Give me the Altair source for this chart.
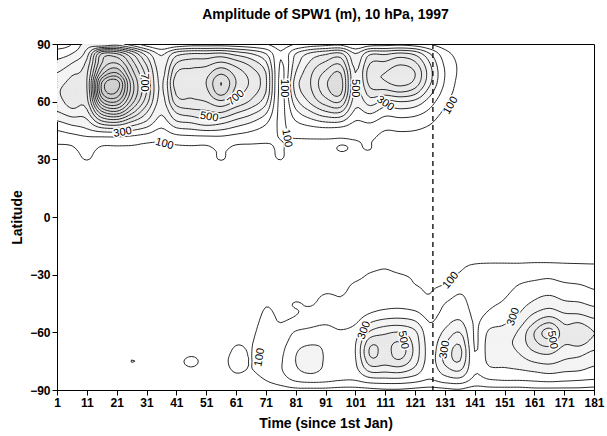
import altair as alt
import numpy as np
import pandas as pd
from collections import defaultdict

# ---------------- data (amplitude in metres) ----------------
DAYS = list(range(1, 182, 5))
NH_LATS = [90, 85, 80, 75, 70, 65, 60, 55, 50, 45, 40, 35, 30, 25]
SH_LATS = [-25, -30, -35, -40, -45, -50, -55, -60, -65, -70, -75, -80, -85, -90]

NH_AMP = {
    1:   [150, 250, 330, 400, 450, 480, 450, 400, 300, 200, 120, 80, 40, 10],
    6:   [200, 300, 400, 480, 540, 600, 560, 470, 350, 240, 130, 85, 45, 15],
    11:  [350, 450, 530, 580, 600, 590, 560, 480, 380, 280, 160, 130, 105, 30],
    16:  [300, 900, 1000, 1150, 1400, 1400, 1200, 900, 600, 330, 150, 80, 40, 15],
    21:  [350, 900, 1100, 1300, 1550, 1500, 1300, 1000, 650, 340, 150, 80, 40, 15],
    26:  [250, 700, 850, 950, 1050, 1050, 950, 760, 520, 300, 140, 80, 40, 15],
    31:  [150, 450, 580, 660, 700, 700, 640, 520, 400, 250, 120, 75, 35, 10],
    36:  [100, 280, 330, 360, 380, 380, 360, 320, 260, 180, 110, 70, 30, 10],
    41:  [120, 450, 600, 700, 760, 720, 650, 520, 400, 260, 130, 80, 40, 10],
    46:  [150, 500, 650, 730, 750, 720, 680, 570, 430, 280, 140, 80, 40, 10],
    51:  [150, 500, 660, 760, 800, 770, 700, 590, 480, 300, 140, 80, 50, 15],
    56:  [150, 520, 720, 880, 1000, 950, 780, 620, 450, 290, 150, 110, 105, 40],
    61:  [140, 460, 650, 760, 800, 760, 680, 530, 380, 250, 130, 80, 50, 15],
    66:  [120, 400, 560, 650, 680, 650, 580, 450, 320, 210, 120, 80, 40, 10],
    71:  [100, 300, 420, 500, 520, 500, 430, 330, 230, 160, 110, 85, 60, 20],
    76:  [60, 110, 90, 75, 70, 70, 70, 75, 80, 90, 100, 105, 102, 40],
    81:  [100, 300, 350, 400, 450, 430, 360, 280, 200, 130, 95, 70, 40, 10],
    86:  [140, 420, 520, 580, 600, 580, 520, 400, 270, 150, 95, 70, 40, 10],
    91:  [160, 480, 620, 720, 780, 750, 650, 500, 320, 160, 95, 70, 50, 15],
    96:  [170, 520, 680, 800, 850, 830, 700, 520, 320, 150, 95, 105, 60, 15],
    101: [100, 300, 360, 400, 400, 380, 340, 280, 200, 130, 100, 90, 70, 20],
    106: [150, 480, 600, 660, 640, 560, 450, 330, 220, 140, 105, 100, 60, 15],
    111: [160, 480, 620, 700, 690, 560, 370, 250, 160, 100, 70, 50, 30, 10],
    116: [170, 520, 680, 760, 740, 600, 400, 270, 170, 105, 70, 50, 30, 10],
    121: [150, 470, 620, 700, 670, 540, 370, 250, 160, 100, 65, 40, 20, 5],
    126: [100, 300, 400, 440, 420, 340, 250, 180, 120, 75, 45, 25, 10, 0],
    131: [50, 140, 180, 200, 190, 160, 120, 85, 50, 30, 15, 5, 0, 0],
    136: [20, 60, 80, 80, 70, 60, 45, 30, 20, 10, 5, 0, 0, 0],
}

SH_AMP = {
    26:  [0, 0, 0, 0, 0, 0, 0, 10, 30, 60, 102, 60, 30, 0],
    31:  [0, 0, 0, 0, 0, 0, 0, 0, 20, 40, 50, 40, 20, 0],
    36:  [0, 0, 0, 0, 0, 0, 0, 0, 20, 40, 50, 40, 20, 0],
    41:  [0, 0, 0, 0, 0, 0, 0, 10, 30, 50, 70, 60, 30, 0],
    46:  [0, 0, 0, 0, 0, 0, 0, 20, 40, 70, 120, 80, 40, 10],
    51:  [0, 0, 0, 0, 0, 0, 0, 20, 40, 60, 70, 60, 30, 10],
    56:  [0, 0, 0, 0, 0, 0, 10, 30, 50, 60, 70, 60, 30, 10],
    61:  [0, 0, 0, 0, 0, 10, 30, 60, 90, 115, 130, 110, 60, 20],
    66:  [0, 0, 0, 10, 30, 50, 70, 85, 95, 98, 98, 95, 60, 30],
    71:  [0, 0, 10, 40, 90, 110, 120, 130, 140, 150, 150, 140, 100, 40],
    76:  [0, 0, 20, 50, 70, 85, 100, 130, 160, 180, 190, 190, 150, 60],
    81:  [0, 0, 30, 60, 105, 95, 130, 210, 250, 290, 300, 280, 210, 80],
    86:  [0, 0, 40, 70, 90, 130, 170, 230, 280, 340, 350, 320, 230, 80],
    91:  [0, 20, 60, 100, 130, 150, 190, 240, 280, 290, 290, 280, 220, 80],
    96:  [0, 30, 70, 95, 110, 130, 170, 210, 240, 260, 260, 250, 200, 70],
    101: [0, 60, 110, 120, 130, 150, 190, 250, 290, 300, 290, 270, 200, 70],
    106: [50, 110, 130, 140, 160, 200, 300, 420, 560, 620, 560, 420, 250, 80],
    111: [80, 120, 140, 150, 170, 230, 350, 480, 560, 560, 540, 420, 260, 90],
    116: [40, 105, 130, 140, 170, 240, 360, 500, 600, 650, 580, 430, 260, 90],
    121: [0, 80, 100, 120, 150, 220, 320, 420, 460, 470, 440, 360, 230, 80],
    126: [0, 60, 90, 100, 120, 160, 200, 230, 250, 260, 260, 240, 190, 70],
    131: [0, 70, 100, 150, 200, 230, 270, 320, 380, 420, 420, 350, 240, 80],
    136: [70, 110, 150, 200, 230, 260, 320, 400, 480, 530, 500, 400, 260, 90],
    141: [110, 140, 150, 160, 170, 180, 190, 190, 190, 200, 210, 210, 170, 60],
    146: [120, 150, 170, 180, 190, 210, 260, 320, 350, 350, 330, 270, 190, 70],
    151: [120, 150, 170, 190, 210, 240, 290, 340, 370, 360, 330, 280, 200, 70],
    156: [120, 160, 200, 230, 260, 300, 360, 420, 440, 410, 360, 290, 200, 70],
    161: [130, 170, 220, 270, 320, 400, 500, 600, 580, 500, 410, 310, 210, 80],
    166: [130, 180, 230, 290, 360, 450, 600, 750, 660, 530, 430, 330, 220, 80],
    171: [120, 160, 210, 260, 320, 400, 490, 540, 520, 450, 390, 310, 210, 80],
    176: [115, 150, 200, 250, 310, 390, 500, 580, 540, 440, 370, 300, 200, 80],
    181: [110, 140, 180, 220, 280, 350, 440, 500, 470, 390, 330, 270, 190, 70],
}

LEVELS = list(range(100, 1601, 100))
FILL_BREAKS = [300, 500, 800, 1200]
FILL_NAMES = ["b1", "b2", "b3", "b4"]
FILL_COLORS = ["#f3f3f3", "#e8e8e8", "#dcdcdc", "#cdcdcd"]

LABEL_TEXT = ["300", "100", "700", "700", "500", "100", "100", "500", "300", "100",
              "100", "300", "500", "100", "300", "300", "500"]
LABEL_DAY = [23, 37, 30, 61, 52, 77, 78, 101, 111, 133, 69, 104, 117, 133, 131, 154, 167]
LABEL_LAT = [44, 38, 70, 62, 52, 67, 41, 67, 59, 58, -73, -59, -64, -33, -69, -52, -64]
LABEL_ANGLE = [350, 15, 90, 320, 10, 90, 80, 90, 35, 300, 280, 290, 80, 310, 280, 290, 80]

DASH_DAY = [127]

# ---------------- grid assembly ----------------
lats = list(range(-90, 91, 5))
Z = np.zeros((len(lats), len(DAYS)))
for i, d in enumerate(DAYS):
    nh = NH_AMP.get(d, [0] * 14)
    sh = SH_AMP.get(d, [0] * 14)
    for k, la in enumerate(NH_LATS):
        Z[lats.index(la), i] = nh[k]
    for k, la in enumerate(SH_LATS):
        Z[lats.index(la), i] = sh[k]


def cr_upsample(arr, f, axis):
    arr = np.moveaxis(arr, axis, 0)
    n = arr.shape[0]
    pos = np.arange((n - 1) * f + 1) / f
    i = np.clip(np.floor(pos).astype(int), 0, n - 2)
    t = (pos - i)[:, None]
    p0 = arr[np.clip(i - 1, 0, n - 1)]
    p1 = arr[i]
    p2 = arr[i + 1]
    p3 = arr[np.clip(i + 2, 0, n - 1)]
    out = 0.5 * (2 * p1 + (-p0 + p2) * t + (2 * p0 - 5 * p1 + 4 * p2 - p3) * t ** 2
                 + (-p0 + 3 * p1 - 3 * p2 + p3) * t ** 3)
    return np.moveaxis(out, 0, axis)


F = 5
ZF = cr_upsample(cr_upsample(Z, F, 0), F, 1)
xs = np.linspace(DAYS[0], DAYS[-1], ZF.shape[1])
ys = np.linspace(lats[0], lats[-1], ZF.shape[0])


def contour_lines(Zg, level):
    above = Zg >= level
    a = above[:-1, :-1]; b = above[:-1, 1:]; c = above[1:, 1:]; d = above[1:, :-1]
    mixed = ~((a == b) & (b == c) & (c == d))
    segs = []
    for j, i in zip(*np.nonzero(mixed)):
        j = int(j); i = int(i)
        A = above[j, i]; B = above[j, i + 1]; C = above[j + 1, i + 1]; D = above[j + 1, i]
        bottom = ('h', j, i); right = ('v', j, i + 1); top = ('h', j + 1, i); left = ('v', j, i)
        edges = []
        if A != B: edges.append(bottom)
        if B != C: edges.append(right)
        if C != D: edges.append(top)
        if D != A: edges.append(left)
        if len(edges) == 2:
            segs.append((edges[0], edges[1]))
        else:
            center = (Zg[j, i] + Zg[j, i + 1] + Zg[j + 1, i + 1] + Zg[j + 1, i]) / 4 >= level
            if center == A:
                segs.append((bottom, right)); segs.append((top, left))
            else:
                segs.append((left, bottom)); segs.append((right, top))
    adj = defaultdict(list)
    for k, (e1, e2) in enumerate(segs):
        adj[e1].append(k); adj[e2].append(k)
    used = [False] * len(segs)
    chains = []
    for k in range(len(segs)):
        if used[k]:
            continue
        used[k] = True
        chain = [segs[k][0], segs[k][1]]
        for _ in range(2):
            while True:
                end = chain[-1]
                nxt = None
                for m in adj[end]:
                    if not used[m]:
                        nxt = m
                        break
                if nxt is None:
                    break
                used[nxt] = True
                e1, e2 = segs[nxt]
                chain.append(e2 if e1 == end else e1)
            chain.reverse()
        chains.append(chain)

    def pt(e):
        kind, j, i = e
        if kind == 'h':
            z0, z1 = Zg[j, i], Zg[j, i + 1]
            t = (level - z0) / (z1 - z0)
            return xs[i] + t * (xs[i + 1] - xs[i]), ys[j]
        z0, z1 = Zg[j, i], Zg[j + 1, i]
        t = (level - z0) / (z1 - z0)
        return xs[i], ys[j] + t * (ys[j + 1] - ys[j])

    return [[pt(e) for e in ch] for ch in chains]


rows = []
lid = 0
for lev in LEVELS:
    for line in contour_lines(ZF, lev):
        for o, (x, y) in enumerate(line):
            rows.append((lid, o, round(float(x), 2), round(float(y), 2)))
        lid += 1
lines_df = pd.DataFrame(rows, columns=["lid", "o", "day", "lat"])

fill_rows = []
for j in range(ZF.shape[0]):
    for i in range(ZF.shape[1]):
        v = ZF[j, i]
        if v >= FILL_BREAKS[0]:
            band = FILL_NAMES[0]
            for bk, nm in zip(FILL_BREAKS, FILL_NAMES):
                if v >= bk:
                    band = nm
            fill_rows.append((float(xs[i]) - 0.55, float(xs[i]) + 0.55,
                              float(ys[j]) - 0.55, float(ys[j]) + 0.55, band))
fill_df = pd.DataFrame(fill_rows, columns=["d0", "d1", "l0", "l1", "band"])

labels_df = pd.DataFrame({"text": LABEL_TEXT, "day": LABEL_DAY, "lat": LABEL_LAT, "angle": LABEL_ANGLE})
dash_df = pd.DataFrame({"day": DASH_DAY})

# ---------------- chart ----------------
FONT = "Liberation Sans"
XS = alt.Scale(domain=[1, 181], nice=False, zero=False)
YS = alt.Scale(domain=[-90, 90], nice=False, zero=False)
XAX = alt.Axis(values=list(range(1, 182, 10)), title="Time  (since 1st Jan)",
               labelOverlap=False, labelFlush=False)
YAX = alt.Axis(values=list(range(-90, 91, 30)), title="Latitude",
               labelOverlap=False, labelFlush=False)


def X(field):
    return alt.X(field, type="quantitative", scale=XS, axis=XAX, title="Time  (since 1st Jan)")


def Y(field):
    return alt.Y(field, type="quantitative", scale=YS, axis=YAX, title="Latitude")


fill = alt.Chart(fill_df).mark_rect(clip=True, strokeWidth=0).encode(
    x=X("d0"), x2="d1", y=Y("l0"), y2="l1",
    color=alt.Color("band:N", scale=alt.Scale(domain=FILL_NAMES, range=FILL_COLORS), legend=None),
)

contours = alt.Chart(lines_df).mark_line(color="#111111", strokeWidth=0.9, clip=True).encode(
    x=X("day"), y=Y("lat"), detail="lid:N", order="o:Q",
)

halo = alt.Chart(labels_df).mark_text(font=FONT, fontSize=11, fill="white", stroke="white",
                                      strokeWidth=3).encode(
    x=X("day"), y=Y("lat"), text="text:N", angle=alt.Angle("angle:Q", scale=None),
)
labels = alt.Chart(labels_df).mark_text(font=FONT, fontSize=11, fill="black").encode(
    x=X("day"), y=Y("lat"), text="text:N", angle=alt.Angle("angle:Q", scale=None),
)

dash = alt.Chart(dash_df).mark_rule(color="black", strokeWidth=1.3, strokeDash=[5, 4]).encode(
    x=X("day"),
)

chart = alt.layer(fill, contours, halo, labels, dash).properties(
    width=537, height=346,
    title=alt.Title("Amplitude of SPW1 (m), 10 hPa, 1997", font=FONT, fontSize=14,
                    fontWeight="bold", color="black", offset=16),
    autosize=alt.AutoSizeParams(type="none"),
    padding={"left": 57, "top": 44, "right": 13, "bottom": 46},
).configure_axis(
    labelFont=FONT, labelFontSize=12, labelFontWeight="bold", labelColor="black",
    titleFont=FONT, titleFontSize=14, titleFontWeight="bold", titleColor="black",
    tickColor="black", domainColor="black", tickSize=5, labelPadding=2, grid=False,
).configure_axisX(titlePadding=8).configure_axisY(titlePadding=5).configure_view(
    stroke="black", strokeWidth=1
)

chart.save("out.html", embed_options={"renderer": "svg", "actions": False})
